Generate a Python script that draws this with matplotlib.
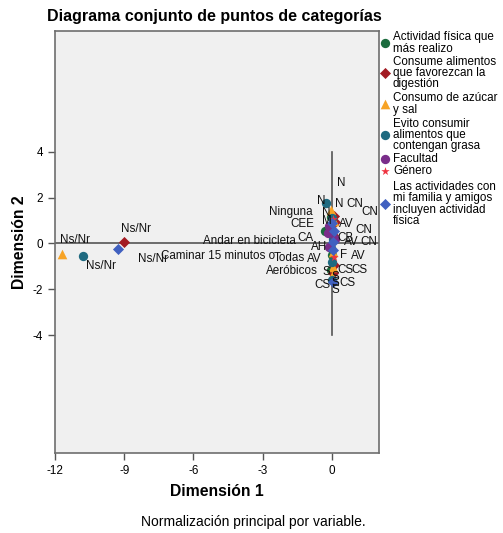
import numpy as np
import matplotlib
matplotlib.use('Agg')
import matplotlib.pyplot as plt

plt.rcParams['font.family'] = ['Liberation Sans', 'DejaVu Sans']
plt.rcParams['axes.unicode_minus'] = False

# category points (dimension 1, dimension 2) per variable
act_labels = ['Ninguna', 'Andar en bicicleta', 'Caminar 15 minutos o', 'Todas', 'Aeróbicos']
act_d1 = [-0.05, -0.30, 0.00, -0.05, -0.05]
act_d2 = [1.15, 0.55, -0.50, -0.20, -1.15]

dig_labels = ['N', 'CN', 'AV', 'CS', 'S', 'Ns/Nr']
dig_d1 = [0.12, 0.15, 0.05, 0.10, 0.05, -9.00]
dig_d2 = [1.20, 0.95, 0.35, -0.95, -1.30, 0.08]

azu_labels = ['N', 'CN', 'AV', 'CS', 'S', 'Ns/Nr']
azu_d1 = [-0.05, 0.10, 0.05, 0.05, 0.00, -11.70]
azu_d2 = [1.45, 1.00, -0.35, -1.03, -1.40, -0.45]

gra_labels = ['N', 'CN', 'AV', 'CS', 'S', 'Ns/Nr']
gra_d1 = [-0.25, 0.00, 0.05, 0.00, 0.00, -10.80]
gra_d2 = [1.75, 1.10, 0.20, -0.80, -1.60, -0.55]

fac_labels = ['CEE', 'CA', 'CB', 'AH']
fac_d1 = [-0.10, -0.15, 0.15, -0.10]
fac_d2 = [0.75, 0.45, 0.20, -0.15]

gen_labels = ['M', 'F']
gen_d1 = [0.05, 0.10]
gen_d2 = [1.05, -0.60]

fam_labels = ['N', 'CN', 'AV', 'CS', 'S', 'Ns/Nr']
fam_d1 = [0.00, 0.10, 0.05, 0.05, 0.05, -9.26]
fam_d2 = [0.90, 0.55, 0.05, -0.30, -1.70, -0.25]

legend_names = ['Actividad física que\nmás realizo',
                'Consume alimentos\nque favorezcan la\ndigestión',
                'Consumo de azúcar\ny sal',
                'Evito consumir\nalimentos que\ncontengan grasa',
                'Facultad',
                'Género',
                'Las actividades con\nmi familia y amigos\nincluyen actividad\nfísica']

# label positions (left edge, centre) in data units, chosen to mimic the original layout
label_pos = {
    'act': [(-2.74, 1.37), (-5.57, 0.11), (-7.39, -0.55), (-2.52, -0.63), (-2.83, -1.20)],
    'dig': [(0.13, 1.72), (0.65, 1.72), (0.30, 0.85), (0.26, -1.16), (-0.39, -1.24), (-9.13, 0.63)],
    'azu': [(0.22, 2.64), (1.30, 1.37), (-1.09, -0.68), (0.87, -1.16), (0.00, -1.46), (-11.78, 0.15)],
    'gra': [(-0.65, 1.86), (1.04, 0.59), (0.52, 0.07), (-0.74, -1.81), (0.00, -1.72), (-10.65, -0.98)],
    'fac': [(-1.78, 0.85), (-1.48, 0.24), (0.26, 0.24), (-0.91, -0.15)],
    'gen': [(-0.43, 0.98), (0.35, -0.50)],
    'fam': [(-0.43, 1.33), (1.26, 0.07), (0.83, -0.55), (0.35, -1.72), (0.00, -2.03), (-8.39, -0.68)],
}

series = [
    ('act', act_d1, act_d2, act_labels, '#1b6b3d', 'o', 45),
    ('dig', dig_d1, dig_d2, dig_labels, '#a31b23', 'D', 32),
    ('azu', azu_d1, azu_d2, azu_labels, '#f7a325', '^', 48),
    ('gra', gra_d1, gra_d2, gra_labels, '#1f6a80', 'o', 45),
    ('fac', fac_d1, fac_d2, fac_labels, '#7a2d8a', 'o', 45),
    ('gen', gen_d1, gen_d2, gen_labels, '#ef3340', '*', 40),
    ('fam', fam_d1, fam_d2, fam_labels, '#4060c0', 'D', 32),
]

fig = plt.figure(figsize=(5.03, 5.33), dpi=100)
ax = fig.add_axes([55 / 503, 1 - 453 / 533, 324 / 503, 422 / 533])
ax.set_facecolor('#f0f0f0')

ax.set_xlim(-12, 2.05)
ax.set_ylim(-9.15, 9.28)

# reference lines
ax.plot([0, 0], [-4, 4], color='#555555', lw=1.2, zorder=1)
ax.axhline(0, color='#555555', lw=1.2, zorder=1)

for key, d1, d2, labs, col, mk, sz in series:
    ax.scatter(d1, d2, s=sz, marker=mk, color=col, zorder=3, linewidths=0)
    for lab, (lx, ly) in zip(labs, label_pos[key]):
        ax.text(lx, ly, lab, fontsize=8.4, ha='left', va='center', color='#111111', zorder=4)

ax.set_xticks([-12, -9, -6, -3, 0])
ax.set_yticks([-4, -2, 0, 2, 4])
ax.tick_params(labelsize=8.4, length=5, width=1, color='#555555', direction='out')
for sp in ax.spines.values():
    sp.set_color('#6e6e6e')
    sp.set_linewidth(1.2)

ax.set_xlabel('Dimensión 1', fontsize=11.3, fontweight='bold')
ax.set_ylabel('Dimensión 2', fontsize=11.3, fontweight='bold')
ax.xaxis.set_label_coords((217 - 55) / 324, (453 - 484) / 422)
ax.yaxis.set_label_coords((27 - 55) / 324, (453 - 242) / 422)
fig.text(214 / 503, 1 - 17 / 533, 'Diagrama conjunto de puntos de categorías',
         fontsize=11.5, fontweight='bold', ha='center', va='center')
fig.text(253 / 503, 1 - 522 / 533, 'Normalización principal por variable.',
         fontsize=10, ha='center', va='center')

# legend on a pixel-based helper axes
lax = fig.add_axes([380 / 503, 0, 123 / 503, 1])
lax.set_xlim(380, 503)
lax.set_ylim(533, 0)
lax.axis('off')
leg_y = [43, 73, 104, 135, 159, 171, 204]
for (key, d1, d2, labs, col, mk, sz), name, y in zip(series, legend_names, leg_y):
    lax.scatter([385], [y], s=sz, marker=mk, color=col, linewidths=0, clip_on=False)
    lax.text(393, y, name, fontsize=8.4, ha='left', va='center', linespacing=0.92)

plt.savefig('out.png', dpi=100)
